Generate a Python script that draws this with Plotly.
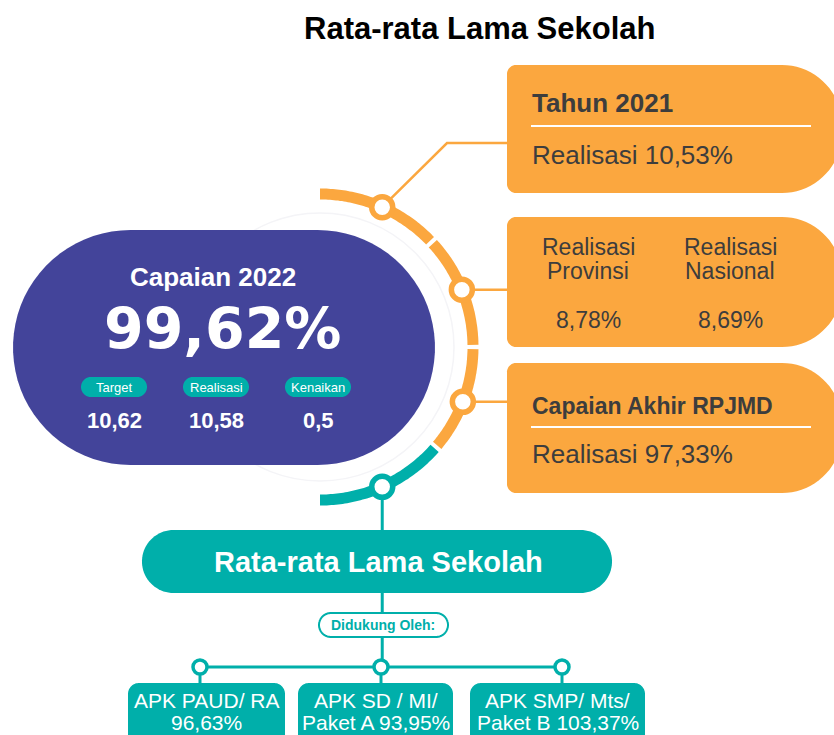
import numpy as np
import plotly.graph_objects as go

# ---- data ----
title_text = "Rata-rata Lama Sekolah"
capaian_label = "Capaian 2022"
capaian_value = "99,62%"
kpi_labels = ["Target", "Realisasi", "Kenaikan"]
kpi_values = ["10,62", "10,58", "0,5"]

tahun_label = "Tahun 2021"
tahun_value = "Realisasi 10,53%"
compare_labels = [["Realisasi", "Provinsi"], ["Realisasi", "Nasional"]]
compare_values = ["8,78%", "8,69%"]
rpjmd_label = "Capaian Akhir RPJMD"
rpjmd_value = "Realisasi 97,33%"

indicator_label = "Rata-rata Lama Sekolah"
support_title = "Didukung Oleh:"
support_labels = [["APK PAUD/ RA", "96,63%"],
                  ["APK SD / MI/", "Paket A 93,95%"],
                  ["APK SMP/ Mts/", "Paket B 103,37%"]]

# ---- style ----
PURPLE = "#43449A"
ORANGE = "#FBA73F"
TEAL = "#00AFAA"
DARK = "#3D3D3D"
FONT = "Liberation Sans, Arial, sans-serif"

W, H = 834, 735
CX, CY, R = 320, 347, 153


def pill(x0, x1, y0, y1):
    r = (y1 - y0) / 2
    yc = (y0 + y1) / 2
    t1 = np.radians(np.linspace(-90, 90, 40))
    t2 = np.radians(np.linspace(90, 270, 40))
    xs = list(x1 - r + r * np.cos(t1)) + list(x0 + r + r * np.cos(t2))
    ys = list(yc + r * np.sin(t1)) + list(yc + r * np.sin(t2))
    return "M" + "L".join(f"{a:.1f},{b:.1f}" for a, b in zip(xs, ys)) + "Z"


def rrect(x0, x1, y0, y1, rl, rr):
    pts = []
    for cx, cy, r, a0, a1 in [(x1 - rr, y0 + rr, rr, -90, 0),
                              (x1 - rr, y1 - rr, rr, 0, 90),
                              (x0 + rl, y1 - rl, rl, 90, 180),
                              (x0 + rl, y0 + rl, rl, 180, 270)]:
        t = np.radians(np.linspace(a0, a1, 20))
        pts += list(zip(cx + r * np.cos(t), cy + r * np.sin(t)))
    return "M" + "L".join(f"{a:.1f},{b:.1f}" for a, b in pts) + "Z"


def ring(a0, a1, r0, r1):
    t = np.radians(np.linspace(a0, a1, 60))
    xs = list(CX + r1 * np.cos(t)) + list(CX + r0 * np.cos(t[::-1]))
    ys = list(CY + r1 * np.sin(t)) + list(CY + r0 * np.sin(t[::-1]))
    return "M" + "L".join(f"{a:.1f},{b:.1f}" for a, b in zip(xs, ys)) + "Z"


shapes = []


def add_path(path, fill, line=None, lw=0):
    shapes.append(dict(type="path", path=path, fillcolor=fill, layer="below",
                       line=dict(color=line or fill, width=lw)))


def add_line(x0, y0, x1, y1, color, w):
    shapes.append(dict(type="line", x0=x0, y0=y0, x1=x1, y1=y1, layer="below",
                       line=dict(color=color, width=w)))


# faint guide circle
shapes.append(dict(type="circle", x0=CX - 134, x1=CX + 134, y0=CY - 134, y1=CY + 134,
                   layer="below", line=dict(color="#F4F4F7", width=1.5)))

# arc segments
for a0, a1, col in [(-90, -44, ORANGE), (-42.5, -0.8, ORANGE), (0.8, 40, ORANGE), (41.5, 90, TEAL)]:
    add_path(ring(a0, a1, R - 5.5, R + 5.5), col)

# connectors to orange boxes
node_ang = [-66, -22, 21, 66]
nx = [CX + R * np.cos(np.radians(a)) for a in node_ang]
ny = [CY + R * np.sin(np.radians(a)) for a in node_ang]
shapes.append(dict(type="path", path=f"M{nx[0]:.1f},{ny[0]:.1f}L447,143L515,143",
                   layer="below", line=dict(color=ORANGE, width=2.5)))
add_line(nx[1], ny[1], 515, ny[1], ORANGE, 2.5)
add_line(nx[2], ny[2], 515, ny[2], ORANGE, 2.5)

# teal tree lines
add_line(nx[3], ny[3], nx[3], 667, TEAL, 3)
bus_x = [200, 381, 562]
add_line(bus_x[0], 667, bus_x[2], 667, TEAL, 3)
for bx in bus_x:
    add_line(bx, 667, bx, 690, TEAL, 3)

# purple pill
add_path(pill(13, 435, 230, 465), PURPLE)
# kpi mini pills
kpi_x = [114, 216, 318]
for kx in kpi_x:
    add_path(pill(kx - 33, kx + 33, 377, 397), TEAL)

# orange boxes
box_y = [(65, 193), (217, 347), (363, 493)]
for y0, y1 in box_y:
    add_path(rrect(507, 842, y0, y1, 9, 60), ORANGE)
add_line(531, 126, 811, 126, "white", 2)
add_line(531, 427, 811, 427, "white", 2)

# teal indicator pill
add_path(pill(142, 612, 530, 593), TEAL)
add_path(pill(319, 448, 613, 637), "white", TEAL, 2)

# bottom boxes
bottom_x = [(128, 285), (298, 453), (470, 645)]
for x0, x1 in bottom_x:
    add_path(rrect(x0, x1, 683, 760, 11, 11), TEAL)

fig = go.Figure()

# node markers on arc
fig.add_trace(go.Scatter(
    x=nx, y=ny, mode="markers", hoverinfo="skip",
    marker=dict(size=21, color="white",
                line=dict(color=[ORANGE, ORANGE, ORANGE, TEAL], width=5.5))))
fig.add_trace(go.Scatter(
    x=bus_x, y=[667] * 3, mode="markers", hoverinfo="skip",
    marker=dict(size=14, color="white", line=dict(color=TEAL, width=3.5))))

ann = []


def txt(x, y, s, size, color="white", bold=False, xanchor="center", family=FONT):
    ann.append(dict(x=x, y=y, text=f"<b>{s}</b>" if bold else s, showarrow=False,
                    xanchor=xanchor, yanchor="middle",
                    font=dict(family=family, size=size, color=color)))


txt(479, 28, title_text, 31, "black", True)
txt(213, 277, capaian_label, 26, bold=True)
txt(222, 329, capaian_value, 57, bold=True, family="DejaVu Sans, sans-serif")
for kx, lab, val in zip(kpi_x, kpi_labels, kpi_values):
    txt(kx, 387, lab, 13)
    txt(kx, 420, val, 22, bold=True)

txt(530, 103, tahun_label, 26, DARK, True, "left")
txt(530, 155, tahun_value, 26, DARK, False, "left")
for cxp, lab, val in zip([588, 730], compare_labels, compare_values):
    txt(cxp, 247, lab[0], 23, DARK)
    txt(cxp, 271, lab[1], 23, DARK)
    txt(cxp, 320, val, 23, DARK)
txt(530, 406, rpjmd_label, 23, DARK, True, "left")
txt(530, 454, rpjmd_value, 26, DARK, False, "left")

txt(378, 562, indicator_label, 29, bold=True)
txt(383, 625, support_title, 14, TEAL, True)
for (x0, x1), lab in zip(bottom_x, support_labels):
    txt((x0 + x1) / 2, 700, lab[0], 21)
    txt((x0 + x1) / 2, 722, lab[1], 21)

fig.update_layout(
    width=W, height=H,
    margin=dict(l=0, r=0, t=0, b=0),
    paper_bgcolor="white", plot_bgcolor="white",
    showlegend=False,
    xaxis=dict(range=[0, W], visible=False, fixedrange=True),
    yaxis=dict(range=[H, 0], visible=False, fixedrange=True),
    shapes=shapes, annotations=ann,
)

fig.write_html("out.html", config={"displayModeBar": False},
               post_script="document.body.style.margin='0';")
